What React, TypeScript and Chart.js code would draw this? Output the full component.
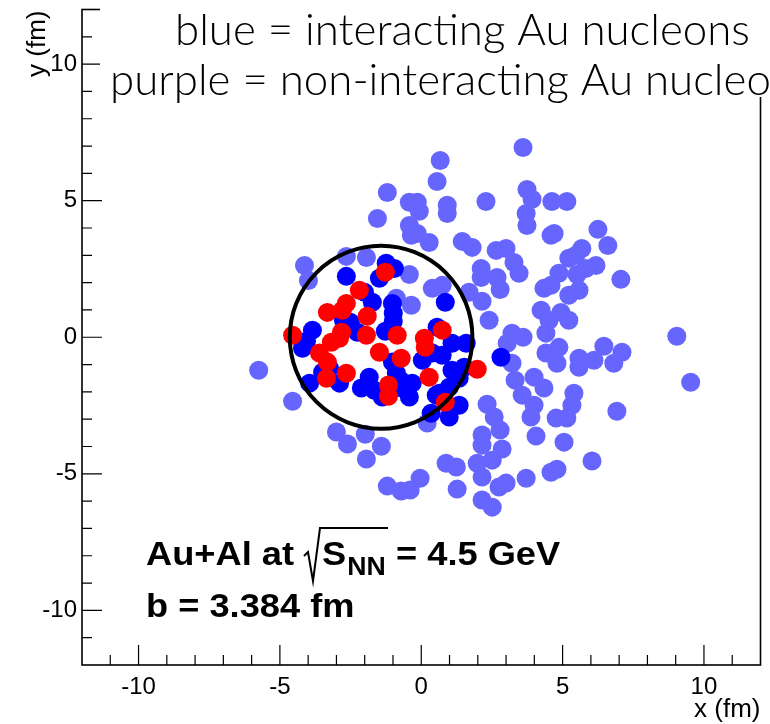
import { useEffect, useRef } from 'react';
import { Chart, registerables } from 'chart.js';

Chart.register(...registerables);

// ---------- axis ----------
const X_MIN = -12;
const X_MAX = 12;
const Y_MIN = -12;
const Y_MAX = 12;
const MAJOR_TICKS = [-10, -5, 0, 5, 10];
const MINOR_TICKS = [-11, -9, -8, -7, -6, -4, -3, -2, -1, 1, 2, 3, 4, 6, 7, 8, 9, 11];

// ---------- texts ----------
const TITLE_LINES = ['blue = interacting Au nucleons', 'purple = non-interacting Au nucleons'];
const X_TITLE = 'x (fm)';
const Y_TITLE = 'y (fm)';
const SYSTEM_TEXT = 'Au+Al at';
const SQRT_S_TEXT = 'S';
const SQRT_SUB_TEXT = 'NN';
const ENERGY_TEXT = '= 4.5 GeV';
const IMPACT_TEXT = 'b = 3.384 fm';

// ---------- Al nucleus outline (fm) ----------
const AL_CENTER_X = -1.42;
const AL_CENTER_Y = 0;
const AL_RADIUS_X = 3.23;
const AL_RADIUS_Y = 3.35;

// ---------- nucleons (x, y in fm) ----------
const purpleNucleons: [number, number][] = [
  [3.60, 6.95], [0.67, 6.47], [0.56, 5.70], [-1.20, 5.30], [-0.42, 4.94], [-0.14, 4.94], [-0.07, 4.61],
  [0.92, 4.83], [0.92, 4.53], [2.29, 4.97], [-1.55, 4.35], [3.74, 5.41], [3.92, 5.05], [4.62, 4.97],
  [5.15, 4.97], [3.71, 4.53], [3.74, 4.09], [4.59, 3.73], [4.70, 3.80], [6.25, 3.95], [6.60, 3.36],
  [-0.42, 4.09], [-0.35, 3.73], [-0.14, 3.80], [0.28, 3.47], [1.45, 3.51], [1.80, 3.29], [-2.65, 2.96],
  [-1.94, 2.92], [-4.13, 2.63], [-3.99, 2.08], [-0.42, 2.30], [2.65, 3.18], [3.00, 3.25], [3.28, 2.74],
  [3.46, 2.34], [2.12, 2.52], [2.12, 2.19], [2.68, 2.19], [2.79, 1.75], [5.47, 3.00], [5.68, 3.25],
  [5.22, 2.89], [6.18, 2.63], [5.82, 2.52], [5.51, 2.30], [5.58, 1.72], [5.22, 1.54], [4.87, 2.34],
  [4.34, 1.79], [4.59, 1.90], [7.06, 2.12], [0.39, 1.79], [0.74, 1.90], [1.69, 1.65], [2.15, 1.32],
  [-0.35, 1.17], [2.40, 0.62], [4.24, 0.99], [4.52, 0.62], [4.94, 0.91], [5.22, 0.62], [3.21, 0.15],
  [3.60, 0.00], [3.04, -0.22], [4.41, 0.15], [9.04, 0.04], [4.41, -0.58], [4.87, -0.37], [4.80, -0.95],
  [5.58, -1.10], [5.58, -0.77], [6.11, -0.84], [6.46, -0.33], [6.81, -0.95], [7.10, -0.55], [3.21, -0.95],
  [3.32, -1.57], [3.57, -2.12], [3.99, -1.46], [4.34, -1.86], [3.99, -2.49], [3.88, -2.92], [2.33, -2.45],
  [2.58, -2.92], [2.79, -3.40], [2.15, -3.58], [2.15, -3.95], [2.86, -4.09], [2.51, -4.50], [1.98, -4.61],
  [2.15, -5.12], [2.75, -5.48], [3.00, -5.34], [2.15, -5.96], [2.51, -6.22], [5.40, -2.05], [5.33, -2.49],
  [4.77, -2.96], [5.15, -2.96], [5.05, -3.84], [4.06, -3.62], [6.92, -2.71], [9.53, -1.65], [6.04, -4.53],
  [3.71, -5.16], [4.59, -4.94], [4.80, -4.83], [-5.75, -1.21], [-4.55, -2.34], [-3.00, -3.47], [-2.61, -3.91],
  [-1.98, -3.55], [-1.41, -3.99], [-1.94, -4.46], [0.21, -3.14], [-1.20, -5.45], [-0.71, -5.63], [-0.39, -5.59],
  [-0.04, -5.16], [0.88, -4.61], [1.24, -4.75], [1.27, -5.56], [-0.88, 1.43],
];

const blueNucleons: [number, number][] = [
  [-1.24, 2.71], [-0.95, 2.52], [-2.65, 2.23], [-1.48, 2.16], [-2.01, 1.65], [-1.73, 1.28], [-1.02, 1.24],
  [-0.99, 0.88], [-0.99, 0.58], [0.85, 1.28], [-2.75, 0.62], [-2.51, 0.55], [-3.85, 0.26], [-4.06, -0.15],
  [-4.20, -0.40], [-2.26, 0.18], [-1.27, 0.22], [0.56, 0.37], [1.09, -0.22], [1.59, -0.22], [0.39, -0.58],
  [0.74, -0.66], [0.04, -0.84], [1.09, -1.21], [1.52, -1.10], [1.34, -1.50], [-1.02, -0.91], [-0.88, -1.32],
  [-0.74, -1.57], [-0.67, -1.86], [-0.32, -1.68], [-0.42, -2.19], [-1.84, -1.46], [-2.12, -1.86], [-1.66, -1.94],
  [-1.38, -2.19], [-3.95, -1.68], [-3.49, -1.28], [-2.89, -1.68], [0.35, -2.78], [0.64, -2.05], [0.99, -1.83],
  [1.34, -2.49], [0.99, -2.92], [2.82, -0.73], [0.53, -2.12], [-3.25, -1.13],
];

const redNucleons: [number, number][] = [
  [-1.27, 2.38], [-2.19, 1.72], [-2.65, 1.24], [-2.79, 0.99], [-3.32, 0.91], [-1.91, 0.77], [-4.55, 0.07],
  [-2.82, 0.18], [-2.89, -0.04], [-3.18, -0.18], [-1.94, 0.07], [-0.85, 0.07], [-3.60, -0.58], [-3.32, -0.91],
  [-3.35, -1.50], [-2.65, -1.32], [-1.48, -0.55], [-0.71, -0.77], [0.11, -0.04], [0.14, -0.37], [0.74, 0.26],
  [-1.16, -1.75], [-1.16, -2.16], [0.28, -1.46], [0.85, -2.38], [1.98, -1.17],
];

const COLOR_PURPLE = '#6666ff';
const COLOR_BLUE = '#0000ff';
const COLOR_RED = '#ff0000';

const HELV = '"Liberation Sans", Arial, Helvetica, sans-serif';
const GILL = 'Lato, "Open Sans", "DejaVu Sans", sans-serif';

const toPoints = (arr: [number, number][]) => arr.map(([x, y]) => ({ x, y }));

function drawStretched(ctx: CanvasRenderingContext2D, text: string, x: number, y: number, font: string, sx: number) {
  ctx.save();
  ctx.font = font;
  ctx.translate(x, y);
  ctx.scale(sx, 1);
  ctx.fillText(text, 0, 0);
  const w = ctx.measureText(text).width * sx;
  ctx.restore();
  return w;
}

const rootPlugin = {
  id: 'rootStyle',
  afterDatasetsDraw(chart: any) {
    const ctx: CanvasRenderingContext2D = chart.ctx;
    const xs = chart.scales.x;
    const ys = chart.scales.y;
    const cx = xs.getPixelForValue(AL_CENTER_X);
    const cy = ys.getPixelForValue(AL_CENTER_Y);
    const rx = Math.abs(xs.getPixelForValue(AL_CENTER_X + AL_RADIUS_X) - cx);
    const ry = Math.abs(ys.getPixelForValue(AL_CENTER_Y + AL_RADIUS_Y) - cy);
    ctx.save();
    ctx.beginPath();
    ctx.ellipse(cx, cy, rx, ry, 0, 0, Math.PI * 2);
    ctx.lineWidth = 4;
    ctx.strokeStyle = '#000';
    ctx.stroke();
    ctx.restore();
  },
  afterDraw(chart: any) {
    const ctx: CanvasRenderingContext2D = chart.ctx;
    const xs = chart.scales.x;
    const ys = chart.scales.y;
    const { left, right, top, bottom } = chart.chartArea;
    ctx.save();
    // frame
    ctx.strokeStyle = '#000';
    ctx.lineWidth = 1.6;
    ctx.strokeRect(left, top, right - left, bottom - top);
    // ticks (inside, ROOT style)
    ctx.lineWidth = 1.2;
    ctx.beginPath();
    MAJOR_TICKS.forEach((v) => {
      const px = xs.getPixelForValue(v);
      ctx.moveTo(px, bottom);
      ctx.lineTo(px, bottom - 20);
      const py = ys.getPixelForValue(v);
      ctx.moveTo(left, py);
      ctx.lineTo(left + 20, py);
    });
    MINOR_TICKS.forEach((v) => {
      const px = xs.getPixelForValue(v);
      ctx.moveTo(px, bottom);
      ctx.lineTo(px, bottom - 10);
      const py = ys.getPixelForValue(v);
      ctx.moveTo(left, py);
      ctx.lineTo(left + 10, py);
    });
    ctx.stroke();

    // title pave
    ctx.fillStyle = '#fff';
    ctx.fillRect(100, 0, chart.width - 100, 97);
    ctx.fillStyle = '#000';
    ctx.textBaseline = 'alphabetic';
    ctx.textAlign = 'left';
    const titleFont = `300 44px ${GILL}`;
    ctx.font = titleFont;
    const tsx = 575 / ctx.measureText(TITLE_LINES[0]).width;
    drawStretched(ctx, TITLE_LINES[0], 175, 45, titleFont, tsx);
    drawStretched(ctx, TITLE_LINES[1], 110, 95, titleFont, tsx);

    // axis titles
    ctx.font = `26px ${HELV}`;
    ctx.textAlign = 'right';
    ctx.fillText(X_TITLE, right, 717);
    ctx.save();
    ctx.translate(45, top + 1);
    ctx.rotate(-Math.PI / 2);
    ctx.fillText(Y_TITLE, 0, 0);
    ctx.restore();

    // annotation
    ctx.textAlign = 'left';
    const bigFont = `bold 34px ${HELV}`;
    ctx.font = bigFont;
    const sx = 148 / ctx.measureText(SYSTEM_TEXT).width;
    drawStretched(ctx, SYSTEM_TEXT, 146, 565, bigFont, sx);
    // radical sign
    ctx.beginPath();
    ctx.lineWidth = 2;
    ctx.moveTo(304, 556);
    ctx.lineTo(308, 552);
    ctx.lineTo(313, 581);
    ctx.lineTo(320, 528);
    ctx.lineTo(388, 528);
    ctx.stroke();
    const wS = drawStretched(ctx, SQRT_S_TEXT, 322, 565, bigFont, sx);
    drawStretched(ctx, SQRT_SUB_TEXT, 322 + wS + 1, 575, `bold 25px ${HELV}`, sx);
    drawStretched(ctx, ENERGY_TEXT, 396, 565, bigFont, sx);
    drawStretched(ctx, IMPACT_TEXT, 146, 617, bigFont, sx);
    ctx.restore();
  },
};

export default function App() {
  const ref = useRef<HTMLCanvasElement>(null);
  useEffect(() => {
    const canvas = ref.current;
    if (!canvas) return;
    const tickFont = { family: HELV, size: 24 };
    const chart = new Chart(canvas, {
      type: 'scatter',
      data: {
        datasets: [
          {
            label: 'interacting Al nucleons',
            data: toPoints(redNucleons),
            backgroundColor: COLOR_RED,
            borderWidth: 0,
            pointRadius: 9.5,
            order: 1,
          },
          {
            label: 'interacting Au nucleons',
            data: toPoints(blueNucleons),
            backgroundColor: COLOR_BLUE,
            borderWidth: 0,
            pointRadius: 9.5,
            order: 2,
          },
          {
            label: 'non-interacting Au nucleons',
            data: toPoints(purpleNucleons),
            backgroundColor: COLOR_PURPLE,
            borderWidth: 0,
            pointRadius: 9.5,
            order: 3,
          },
        ],
      },
      options: {
        animation: false,
        responsive: false,
        maintainAspectRatio: false,
        layout: { padding: { top: 9, right: 8, left: 0, bottom: 0 } },
        plugins: {
          legend: { display: false },
          tooltip: { enabled: false },
          title: { display: false },
        },
        scales: {
          x: {
            type: 'linear',
            min: X_MIN,
            max: X_MAX,
            grid: { display: false, drawTicks: false },
            border: { display: false },
            afterBuildTicks: (s: any) => {
              s.ticks = MAJOR_TICKS.map((v) => ({ value: v }));
            },
            afterFit: (s: any) => {
              s.height = 59;
              s.paddingLeft = 0;
              s.paddingRight = 0;
            },
            ticks: { font: tickFont, color: '#000', padding: 8, maxRotation: 0, autoSkip: false },
          },
          y: {
            type: 'linear',
            min: Y_MIN,
            max: Y_MAX,
            grid: { display: false, drawTicks: false },
            border: { display: false },
            afterBuildTicks: (s: any) => {
              s.ticks = MAJOR_TICKS.map((v) => ({ value: v }));
            },
            afterFit: (s: any) => {
              s.width = 82;
              s.paddingTop = 0;
              s.paddingBottom = 0;
            },
            ticks: { font: tickFont, color: '#000', padding: 5, autoSkip: false },
          },
        },
      },
      plugins: [rootPlugin],
    } as any);
    return () => chart.destroy();
  }, []);
  return (
    <div style={{ position: 'absolute', left: 0, top: 0, width: 770, height: 724, background: '#fff' }}>
      <canvas ref={ref} width={770} height={724} style={{ display: 'block', width: 770, height: 724 }} />
    </div>
  );
}
